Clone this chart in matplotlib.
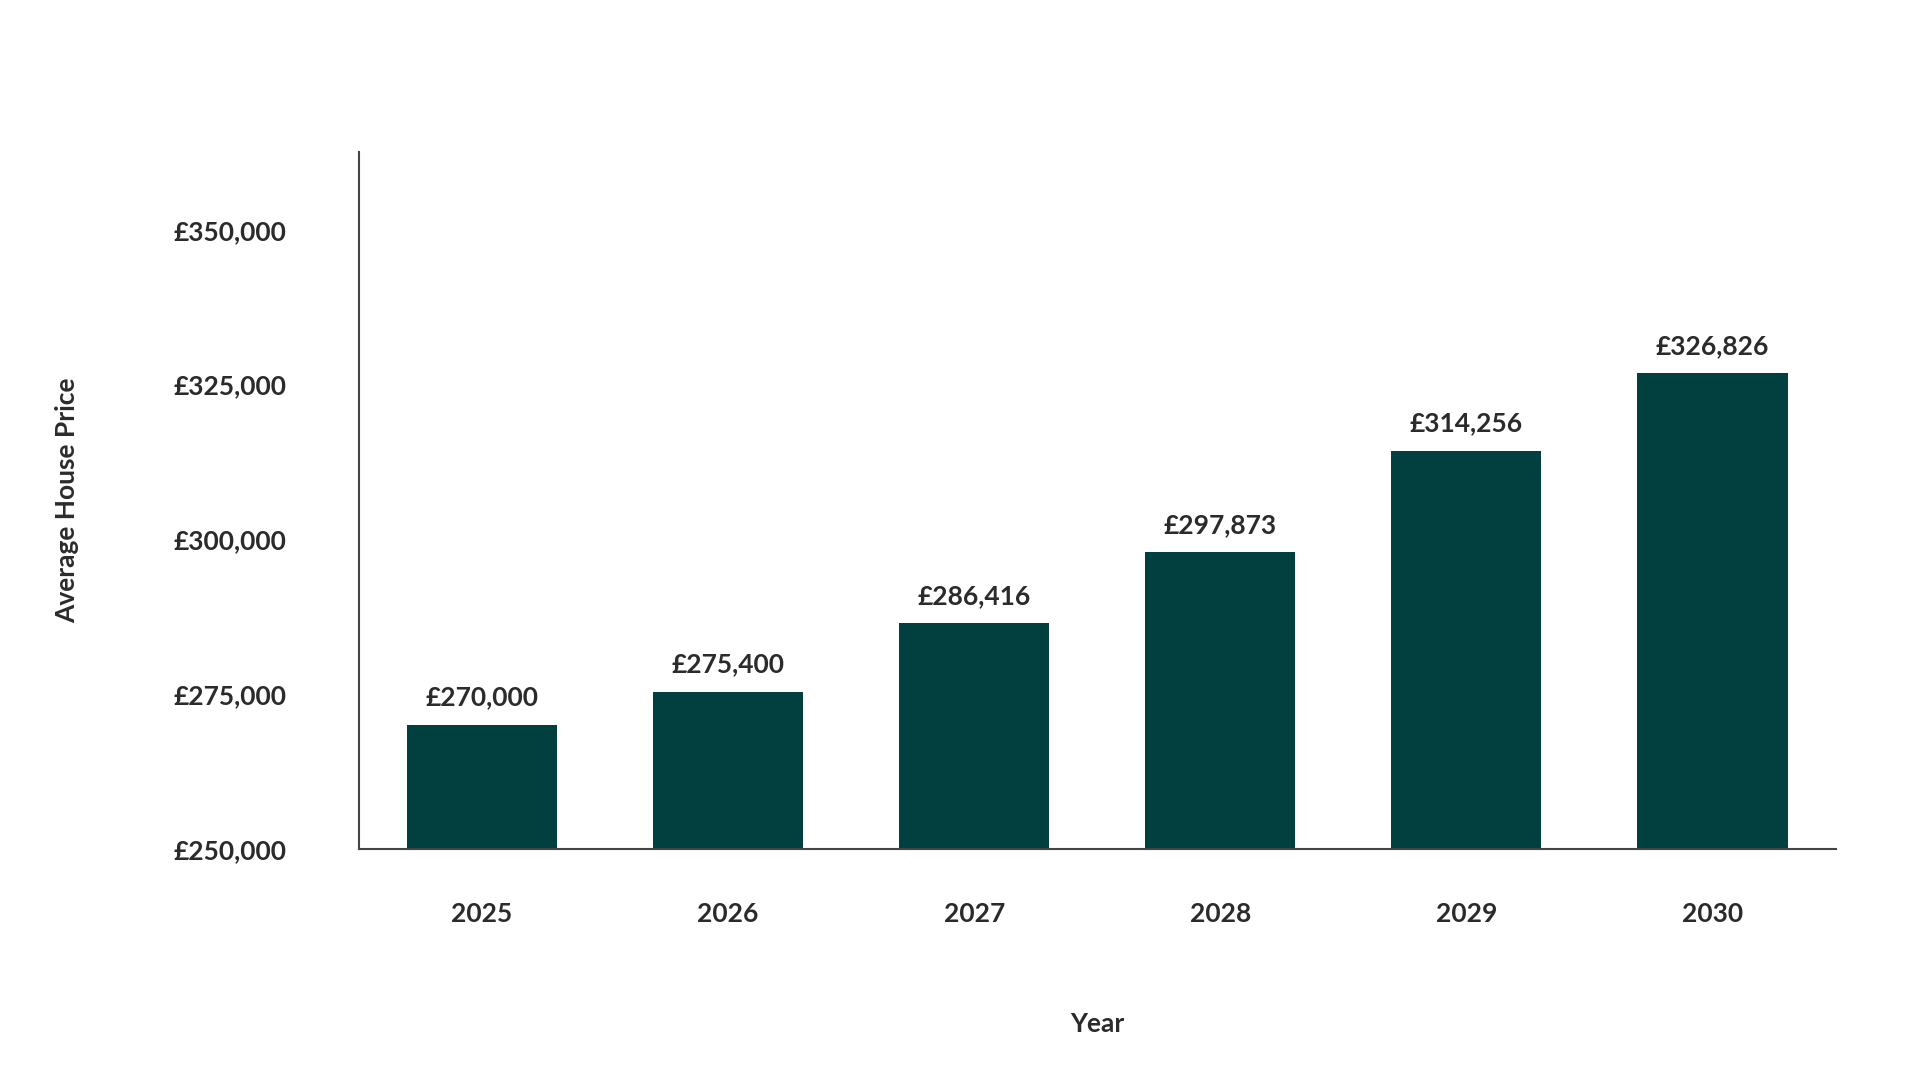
import matplotlib
matplotlib.use("Agg")
import matplotlib.pyplot as plt
from matplotlib.ticker import FuncFormatter

years = ["2025", "2026", "2027", "2028", "2029", "2030"]
prices = [270000, 275400, 286416, 297873, 314256, 326826]
yticks = [250000, 275000, 300000, 325000, 350000]

plt.rcParams['font.family'] = ['Lato', 'DejaVu Sans']
fig = plt.figure(figsize=(19.2, 10.8), dpi=100)
ax = fig.add_axes([0.187, 0.214, 0.769, 0.645])
x = range(len(years))
ax.bar(x, prices, width=0.61, color="#02403F")
for xi, v in zip(x, prices):
    ax.text(xi, v + 2500, f"£{v:,}", ha="center", va="bottom", fontsize=19, color="#2b2b2b", fontweight="bold")
ax.set_xlim(-0.5, 5.5)
ax.set_ylim(250000, 362500)
ax.set_yticks(yticks)
ax.yaxis.set_major_formatter(FuncFormatter(lambda v, p: f"£{int(v):,}"))
ax.set_xticks(list(x))
ax.set_xticklabels(years)
ax.tick_params(axis='both', length=0, labelsize=19, colors="#2b2b2b")
ax.tick_params(axis='y', pad=52)
ax.tick_params(axis='x', pad=38)
for l in ax.get_xticklabels() + ax.get_yticklabels():
    l.set_fontweight("bold")
for s in ["top", "right"]:
    ax.spines[s].set_visible(False)
for s in ["left", "bottom"]:
    ax.spines[s].set_color("#444444")
    ax.spines[s].set_linewidth(1.5)
ax.set_xlabel("Year", fontsize=19, color="#2b2b2b", fontweight="bold", labelpad=62)
ax.set_ylabel("Average House Price", fontsize=19, color="#2b2b2b", fontweight="bold", labelpad=68)
fig.savefig("out.png", dpi=100)
